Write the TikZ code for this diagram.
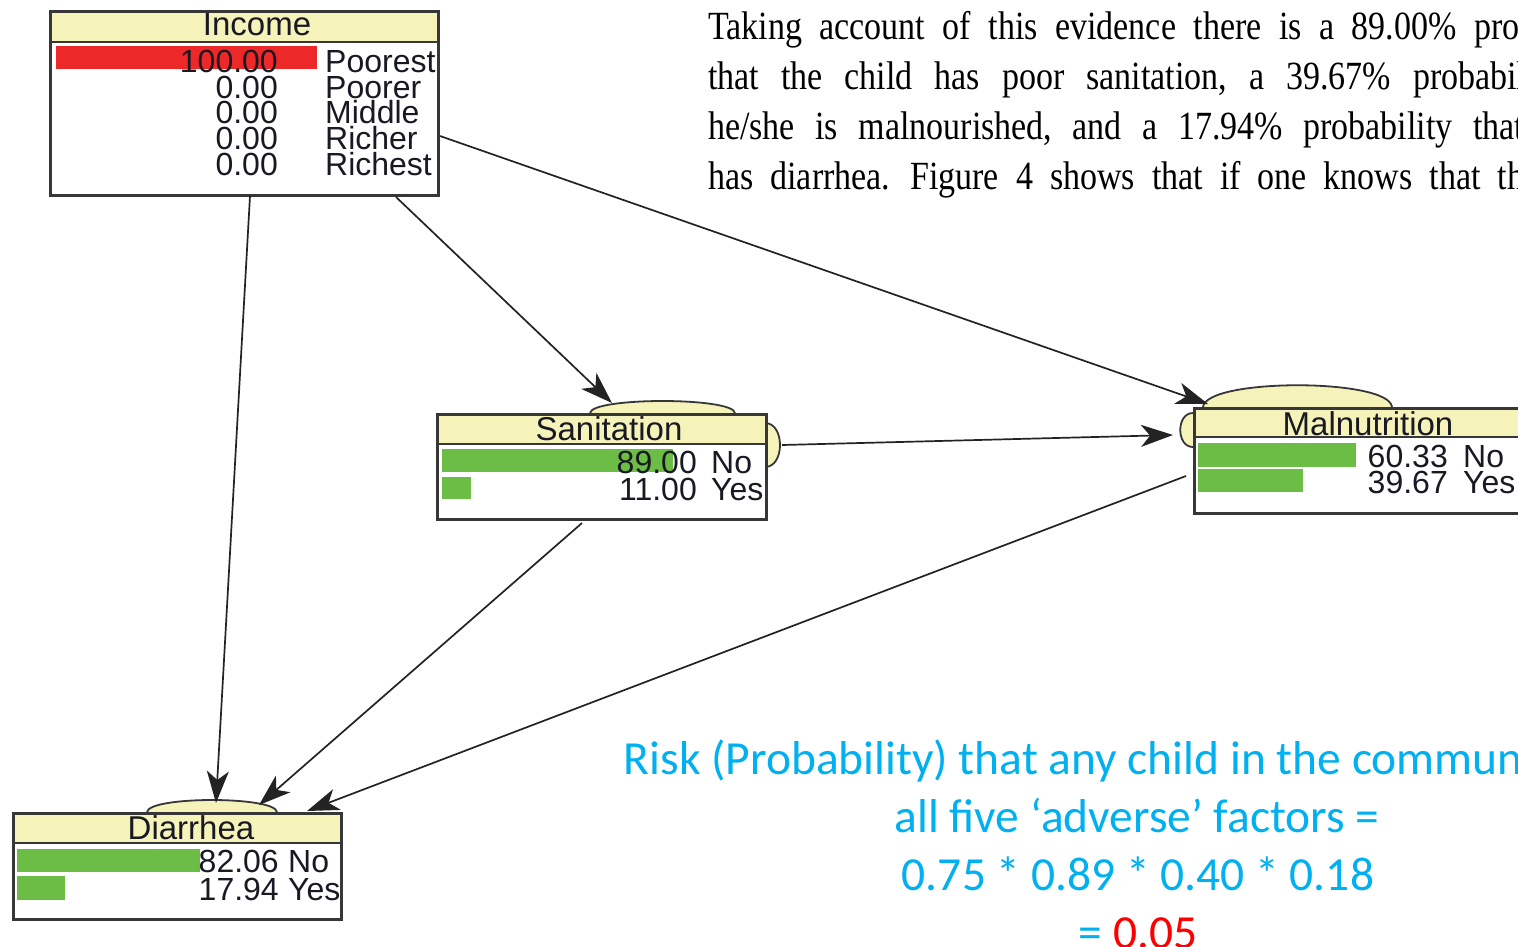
\documentclass[tikz,border=0pt]{standalone}
\usepackage{fontspec}
\setmainfont{Liberation Sans}
\newfontfamily\paperfont[FakeStretch=0.85]{Liberation Serif}
\newfontfamily\slidefont{Carlito}
\usetikzlibrary{arrows.meta}
\definecolor{titlefill}{RGB}{245,243,186}
\definecolor{frameline}{RGB}{55,55,55}
\definecolor{barred}{RGB}{236,40,40}
\definecolor{bargreen}{RGB}{108,189,69}
\definecolor{slideblue}{RGB}{0,176,240}
\definecolor{linkline}{RGB}{35,35,35}
\definecolor{inktext}{RGB}{25,25,35}

\tikzset{
  frame/.style={draw=frameline, line width=3pt, anchor=north west, inner sep=0pt},
  sepline/.style={draw=frameline, line width=2.5pt},
  bump/.style={fill=titlefill, draw=frameline, line width=1.8pt},
  ttl/.style={anchor=base, inner sep=0pt, font=\fontsize{33}{33}\selectfont, text=inktext},
  val/.style={anchor=base east, inner sep=0pt, font=\fontsize{32}{32}\selectfont, text=inktext},
  lab/.style={anchor=base west, inner sep=0pt, font=\fontsize{32}{32}\selectfont, text=inktext},
  link/.style={draw=linkline, line width=1.7pt, -{Stealth[length=32pt,width=22pt,inset=9pt]}},
  pline/.style={anchor=base west, inner sep=0pt, font=\fontsize{40}{40}\paperfont, text=black},
  slide/.style={anchor=base, inner sep=0pt, font=\fontsize{47.5}{58}\slidefont, text=slideblue},
}

\begin{document}
\begin{tikzpicture}[x=1pt, y=-1pt]
\useasboundingbox (0,0) rectangle (1518,946);
\clip (0,0) rectangle (1518,946);
\fill[white] (0,0) rectangle (1518,946);

% ---------- bumps on the node outlines ----------
\draw[bump] (590,413) .. controls (592,397) and (733,397) .. (735,413);
\draw[bump] (765,423) .. controls (785,423) and (785,467) .. (765,467);
\draw[bump] (1203,407) .. controls (1206,378) and (1389,378) .. (1392,407);
\draw[bump] (1193,413) .. controls (1176,413) and (1176,447) .. (1193,447);
\draw[bump] (147,812) .. controls (149,796) and (275,796) .. (277,812);

% ---------- Income ----------
\fill[white] (49,10) rectangle (437,194);
\fill[titlefill] (49,10) rectangle (437,42);
\draw[sepline] (49,42) -- (437,42);
\fill[barred] (56,46) rectangle (317,69);
\node[ttl] (income-title) at (257,35) {Income};
\node[val] (inc-v1) at (278,72) {100.00};
\node[val] (inc-v2) at (278,98) {0.00};
\node[val] (inc-v3) at (278,123.5) {0.00};
\node[val] (inc-v4) at (278,149) {0.00};
\node[val] (inc-v5) at (278,175) {0.00};
\node[lab] (inc-l1) at (325,72) {Poorest};
\node[lab] (inc-l2) at (325,98) {Poorer};
\node[lab] (inc-l3) at (325,123.5) {Middle};
\node[lab] (inc-l4) at (325,149) {Richer};
\node[lab] (inc-l5) at (325,175) {Richest};
\node[frame, minimum width=388pt, minimum height=184pt] (income) at (49,10) {};

% ---------- Sanitation ----------
\fill[white] (436,413) rectangle (765,518);
\fill[titlefill] (436,413) rectangle (765,444);
\draw[sepline] (436,444) -- (765,444);
\fill[bargreen] (442,449) rectangle (673,472);
\fill[bargreen] (442,477) rectangle (471,499);
\node[ttl] (san-title) at (609,440) {Sanitation};
\node[val] (san-v1) at (697,473) {89.00};
\node[val] (san-v2) at (697,500) {11.00};
\node[lab] (san-l1) at (711,473) {No};
\node[lab] (san-l2) at (711,500) {Yes};
\node[frame, minimum width=329pt, minimum height=105pt] (sanitation) at (436,413) {};

% ---------- Malnutrition ----------
\fill[white] (1193,407) rectangle (1530,512);
\fill[titlefill] (1193,407) rectangle (1530,437);
\draw[sepline] (1193,437) -- (1530,437);
\fill[bargreen] (1198,443) rectangle (1356,467);
\fill[bargreen] (1198,469) rectangle (1303,492);
\node[ttl] (mal-title) at (1368,435) {Malnutrition};
\node[val] (mal-v1) at (1448,467) {60.33};
\node[val] (mal-v2) at (1448,493) {39.67};
\node[lab] (mal-l1) at (1463,467) {No};
\node[lab] (mal-l2) at (1463,493) {Yes};
\node[frame, minimum width=337pt, minimum height=105pt] (malnutrition) at (1193,407) {};

% ---------- Diarrhea ----------
\fill[white] (12,812) rectangle (340,918);
\fill[titlefill] (12,812) rectangle (340,843);
\draw[sepline] (12,843) -- (340,843);
\fill[bargreen] (17,849) rectangle (200,872);
\fill[bargreen] (17,876) rectangle (65,900);
\node[ttl] (dia-title) at (191,839) {Diarrhea};
\node[val] (dia-v1) at (279,872) {82.06};
\node[val] (dia-v2) at (279,900) {17.94};
\node[lab] (dia-l1) at (288,872) {No};
\node[lab] (dia-l2) at (288,900) {Yes};
\node[frame, minimum width=328pt, minimum height=106pt] (diarrhea) at (12,812) {};

% ---------- connection points ----------
\coordinate (inc-dia) at (250,196);
\coordinate (inc-san) at (396,197);
\coordinate (inc-mal) at (440,136);
\coordinate (san-mal) at (782,445);
\coordinate (san-dia) at (582,523);
\coordinate (mal-dia) at (1186,476);
\coordinate (dia-in1) at (216,803);
\coordinate (dia-in2) at (259,805);
\coordinate (dia-in3) at (307,811);
\coordinate (san-in) at (612,403);
\coordinate (mal-in1) at (1208,404);
\coordinate (mal-in2) at (1173,435);

\draw[link] (inc-dia) -- (dia-in1);
\draw[link] (inc-san) -- (san-in);
\draw[link] (inc-mal) -- (mal-in1);
\draw[link] (san-mal) -- (mal-in2);
\draw[link] (san-dia) -- (dia-in2);
\draw[link] (mal-dia) -- (dia-in3);

% ---------- quoted paragraph ----------
\node[pline] (par1) at (708,39) {\spaceskip=17.5pt\relax Taking account of this evidence there is a 89.00\% probability};
\node[pline] (par2) at (708,89) {\spaceskip=22pt\relax that the child has poor sanitation, a 39.67\% probability that};
\node[pline] (par3) at (708,139) {\spaceskip=20.5pt\relax he/she is malnourished, and a 17.94\% probability that he/she};
\node[pline] (par4) at (708,189) {\spaceskip=17pt\relax has diarrhea. Figure 4 shows that if one knows that the};

% ---------- risk note ----------
\node[slide] (risk1) at (1136,774) {Risk (Probability) that any child in the community has};
\node[slide] (risk2) at (1137,832) {all five ‘adverse’ factors =};
\node[slide] (risk3) at (1138,890) {0.75 * 0.89 * 0.40 * 0.18};
\node[slide] (risk4) at (1138,948) {= \textcolor{red}{0.05}};
\end{tikzpicture}
\end{document}
